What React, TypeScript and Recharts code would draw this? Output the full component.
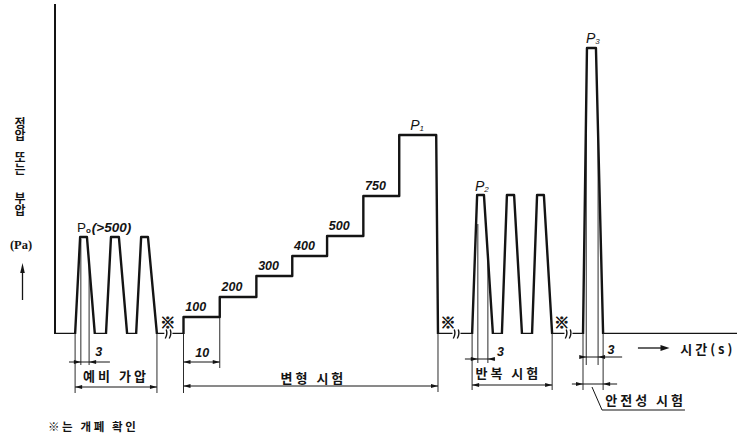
import React from 'react';
import { LineChart, Line, XAxis, YAxis, ReferenceLine, ReferenceDot } from 'recharts';

type Pt = { t: number; p: number };

// ---------------- data (time in s, pressure in schematic height units) ----------------
const P0_LEVEL = 97; // pre-pressure peaks, P0 (>500)
const P1_LEVEL = 199;
const P2_LEVEL = 139;
const P3_LEVEL = 286;

const STEP_LABELS = ['100', '200', '300', '400', '500', '750'];
const STEP_LEVELS = [17, 37, 58, 78, 98, 138];
const STEP_STARTS = [35.8, 45.9, 56.1, 66.1, 75.8, 85.9];
const P1_START = 95.9;
const P1_END = 106.2;
const P1_DROP = 106.7;

const PRE_PRESSURE: Pt[] = [
  { t: 0, p: 0 }, { t: 5.6, p: 0 }, { t: 7.0, p: P0_LEVEL }, { t: 8.9, p: P0_LEVEL }, { t: 11.1, p: 0 },
  { t: 14.2, p: 0 }, { t: 15.6, p: P0_LEVEL }, { t: 17.8, p: P0_LEVEL }, { t: 20.1, p: 0 },
  { t: 22.6, p: 0 }, { t: 24.0, p: P0_LEVEL }, { t: 25.9, p: P0_LEVEL }, { t: 28.4, p: 0 },
  { t: 30.6, p: 0 },
];

const DEFORMATION_LEAD: Pt[] = [{ t: 32.6, p: 0 }, { t: 35.8, p: 0 }];
const DEFORMATION_TAIL: Pt[] = [{ t: P1_DROP, p: 0 }, { t: 110.9, p: 0 }];

const REPEAT: Pt[] = [
  { t: 112.8, p: 0 }, { t: 116.2, p: 0 }, { t: 117.6, p: P2_LEVEL }, { t: 119.5, p: P2_LEVEL }, { t: 122.0, p: 0 },
  { t: 124.5, p: 0 }, { t: 125.9, p: P2_LEVEL }, { t: 127.9, p: P2_LEVEL }, { t: 130.1, p: 0 },
  { t: 132.9, p: 0 }, { t: 134.3, p: P2_LEVEL }, { t: 136.2, p: P2_LEVEL }, { t: 138.5, p: 0 },
  { t: 142.1, p: 0 },
];

const SAFETY: Pt[] = [
  { t: 144.0, p: 0 }, { t: 147.1, p: 0 }, { t: 148.2, p: P3_LEVEL }, { t: 150.7, p: P3_LEVEL },
  { t: 152.7, p: 0 }, { t: 190, p: 0 },
];

const BREAK_TIMES = [31.6, 111.85, 143.05];
const BREAK_NOTE_TIMES = [31.4, 109.5, 141.2];

// the stair-step deformation table built from the step arrays
const DEFORMATION: Pt[] = [
  ...DEFORMATION_LEAD,
  ...STEP_STARTS.flatMap((s, i) => [
    { t: s, p: i === 0 ? 0 : STEP_LEVELS[i - 1] },
    { t: s, p: STEP_LEVELS[i] },
  ]),
  { t: P1_START, p: STEP_LEVELS[STEP_LEVELS.length - 1] },
  { t: P1_START, p: P1_LEVEL },
  { t: P1_END, p: P1_LEVEL },
  ...DEFORMATION_TAIL,
];

const Y_TITLE_WORDS = ['정압', '또는', '부압'];
const Y_TITLE_UNIT = '(Pa)';
const X_TITLE = '시간(s)';

// ---------------- styling ----------------
const INK = '#141414';
const KR = '"Noto Sans CJK KR", "Noto Sans CJK SC", sans-serif';
const NUM = '"Liberation Sans", "DejaVu Sans", sans-serif';
const SERIF = '"Liberation Serif", "DejaVu Serif", serif';

const W = 737;
const H = 444;
const MARGIN = { top: 4, right: 0, left: 55, bottom: 110 };

// ---------------- annotation layout (in chart data units) ----------------
type Ext = [number, number, number];
const EXT_LINES: Ext[] = [
  [5.6, 0, -59], [7.2, 95, -31], [9.5, 69, -31], [28.4, 0, -59],
  [35.8, 0, -59], [45.9, 17, -34], [P1_DROP, 0, -58],
  [116.2, 0, -56], [117.8, 110, -29], [120.6, 77, -29], [138.5, 0, -56],
  [147.1, 0, -56], [148.0, 200, -31], [151.3, 200, -31], [152.7, 0, -56],
];

type Dim = { kind: 'out' | 'in'; t1: number; t2: number; from: number; to: number; p: number };
const DIMS: Dim[] = [
  { kind: 'in', t1: 7.2, t2: 9.5, from: 3.9, to: 15.3, p: -28 },
  { kind: 'out', t1: 5.6, t2: 28.4, from: 5.6, to: 28.4, p: -53 },
  { kind: 'out', t1: 35.8, t2: 45.9, from: 35.8, to: 45.9, p: -28 },
  { kind: 'out', t1: 35.8, t2: P1_DROP, from: 35.8, to: P1_DROP, p: -52 },
  { kind: 'in', t1: 117.8, t2: 120.6, from: 114.2, to: 122.6, p: -25 },
  { kind: 'out', t1: 116.2, t2: 138.5, from: 116.2, to: 138.5, p: -51 },
  { kind: 'in', t1: 148.0, t2: 151.3, from: 146.8, to: 158.0, p: -23 },
  { kind: 'in', t1: 147.1, t2: 152.7, from: 144.0, to: 156.6, p: -50 },
];

type Note = { t: number; p: number; text: string; anchor: 'start' | 'middle' | 'end'; font: 'kr' | 'num' };
const NOTES: Note[] = [
  { t: 12.2, p: -18, text: '3', anchor: 'middle', font: 'num' },
  { t: 17.0, p: -41, text: '예비\u00a0가압', anchor: 'middle', font: 'kr' },
  { t: 41.0, p: -19, text: '10', anchor: 'middle', font: 'num' },
  { t: 72.0, p: -43, text: '변형\u00a0시험', anchor: 'middle', font: 'kr' },
  { t: 124.1, p: -18, text: '3', anchor: 'middle', font: 'num' },
  { t: 126.3, p: -38, text: '반복\u00a0시험', anchor: 'middle', font: 'kr' },
  { t: 154.9, p: -16, text: '3', anchor: 'middle', font: 'num' },
  { t: 153.3, p: -65, text: '안전성\u00a0시험', anchor: 'start', font: 'kr' },
  { t: 174.2, p: -14, text: X_TITLE, anchor: 'start', font: 'kr' },
];

// ---------------- shapes ----------------
const arrowShape = (dir: 1 | -1, len = 7, hw = 2.1) => (props: any) => {
  const { cx, cy } = props;
  if (cx == null || cy == null) return <g />;
  return (
    <path
      d={`M${cx},${cy}L${cx - dir * len},${cy - hw}L${cx - dir * len},${cy + hw}Z`}
      fill={INK}
    />
  );
};

const textShape = (content: React.ReactNode, style: Record<string, any>) => (props: any) => {
  const { cx, cy } = props;
  if (cx == null || cy == null) return <g />;
  return (
    <text x={cx} y={cy} dominantBaseline="central" fill={INK} {...style}>
      {content}
    </text>
  );
};

const breakShape = (props: any) => {
  const { cx, cy } = props;
  if (cx == null || cy == null) return <g />;
  return (
    <g stroke={INK} strokeWidth={1.4} fill="none">
      <rect x={cx - 4} y={cy - 2} width={8} height={4} fill="#fff" stroke="none" />
      <path d={`M${cx - 3.2},${cy + 4.5} Q${cx - 0.6},${cy} ${cx - 2.2},${cy - 4.5}`} />
      <path d={`M${cx + 0.8},${cy + 4.5} Q${cx + 3.4},${cy} ${cx + 1.8},${cy - 4.5}`} />
    </g>
  );
};

// y-axis title, anchored at the axis origin (cx, cy); words are set vertically
const yTitleShape = (props: any) => {
  const { cx, cy } = props;
  if (cx == null || cy == null) return <g />;
  const x = cx - 35;
  const centres = [205, 171, 130];
  return (
    <g>
      {Y_TITLE_WORDS.map((w, i) => (
        <text key={i} x={x} y={cy - centres[i]} textAnchor="middle" dominantBaseline="central"
          style={{ writingMode: 'vertical-rl' as any }}
          fontFamily={KR} fontSize={12} fontWeight={700} fill={INK}>{w}</text>
      ))}
      <text x={x + 1} y={cy - 89} textAnchor="middle" dominantBaseline="central"
        fontFamily={SERIF} fontSize={12.5} fontWeight={700} fill={INK}>{Y_TITLE_UNIT}</text>
      <line x1={x + 2.5} y1={cy - 34} x2={x + 2.5} y2={cy - 64} stroke={INK} strokeWidth={1.3} />
      <path d={`M${x + 2.5},${cy - 71}L${x + 0.2},${cy - 61}L${x + 4.8},${cy - 61}Z`} fill={INK} />
    </g>
  );
};

const krStyle = { fontFamily: KR, fontSize: 13, fontWeight: 700, letterSpacing: 3 };
const numStyle = { fontFamily: NUM, fontSize: 12.5, fontStyle: 'italic', fontWeight: 700 };
const noteMarkStyle = {
  fontFamily: KR, fontSize: 15, fontWeight: 700, textAnchor: 'middle',
  stroke: INK, strokeWidth: 0.7,
};

export default function App() {
  const lineProps = {
    dataKey: 'p',
    stroke: INK,
    strokeWidth: 2.4,
    dot: false,
    activeDot: false,
    isAnimationActive: false,
    strokeLinejoin: 'round' as const,
    type: 'linear' as const,
  };

  const ext = EXT_LINES.map(([t, a, b], i) => (
    <ReferenceLine key={`e${i}`} segment={[{ x: t, y: a }, { x: t, y: b }]}
      stroke={INK} strokeWidth={0.9} ifOverflow="visible" />
  ));

  const dims = DIMS.flatMap((d, i) => [
    <ReferenceLine key={`d${i}`} segment={[{ x: d.from, y: d.p }, { x: d.to, y: d.p }]}
      stroke={INK} strokeWidth={1} ifOverflow="visible" />,
    <ReferenceDot key={`da${i}`} x={d.t1} y={d.p} r={0} ifOverflow="visible"
      shape={arrowShape(d.kind === 'out' ? -1 : 1)} />,
    <ReferenceDot key={`db${i}`} x={d.t2} y={d.p} r={0} ifOverflow="visible"
      shape={arrowShape(d.kind === 'out' ? 1 : -1)} />,
  ]);

  const notes = NOTES.map((n, i) => (
    <ReferenceDot key={`n${i}`} x={n.t} y={n.p} r={0} ifOverflow="visible"
      shape={textShape(n.text, { ...(n.font === 'kr' ? krStyle : numStyle), textAnchor: n.anchor })} />
  ));

  const stepLabels = STEP_LABELS.map((s, i) => (
    <ReferenceDot key={`s${i}`} x={STEP_STARTS[i] + 3.4} y={STEP_LEVELS[i] + 10} r={0} ifOverflow="visible"
      shape={textShape(s, { ...numStyle, textAnchor: 'middle' })} />
  ));

  const breaks = BREAK_TIMES.map((t, i) => (
    <ReferenceDot key={`b${i}`} x={t} y={0} r={0} ifOverflow="visible" shape={breakShape} />
  ));
  const breakNotes = BREAK_NOTE_TIMES.map((t, i) => (
    <ReferenceDot key={`bn${i}`} x={t} y={13} r={0} ifOverflow="visible"
      shape={textShape('※', noteMarkStyle)} />
  ));

  return (
    <div style={{ position: 'absolute', left: 0, top: 0, width: W, height: H, background: '#fff' }}>
      <LineChart width={W} height={H} margin={MARGIN}>
        <XAxis type="number" dataKey="t" domain={[0, 190]} allowDataOverflow hide />
        <YAxis type="number" domain={[0, 330]} allowDataOverflow hide />

        {/* vertical pressure axis */}
        <ReferenceLine segment={[{ x: 0, y: 0 }, { x: 0, y: 330 }]} stroke={INK} strokeWidth={2}
          ifOverflow="visible" />
        <ReferenceDot x={0} y={0} r={0} ifOverflow="visible" shape={yTitleShape} />

        {ext}
        {dims}

        <Line data={PRE_PRESSURE} {...lineProps} />
        <Line data={DEFORMATION} {...lineProps} />
        <Line data={REPEAT} {...lineProps} />
        <Line data={SAFETY} {...lineProps} />

        {breaks}
        {breakNotes}
        {stepLabels}
        {notes}

        {/* peak labels */}
        <ReferenceDot x={6.1} y={P0_LEVEL + 10} r={0} ifOverflow="visible"
          shape={textShape(
            <>
              <tspan fontStyle="normal" fontWeight={400}>P</tspan>
              <tspan fontSize={8} dy={3} fontStyle="normal">o</tspan>
              <tspan dy={-3} dx={1}>(&gt;500)</tspan>
            </>,
            { ...numStyle, textAnchor: 'start', fontSize: 13.5 })} />
        <ReferenceDot x={100.9} y={P1_LEVEL + 10} r={0} ifOverflow="visible"
          shape={textShape(
            <>
              <tspan>P</tspan>
              <tspan fontSize={8} dy={3}>1</tspan>
            </>,
            { ...numStyle, fontWeight: 400, textAnchor: 'middle', fontSize: 14 })} />
        <ReferenceDot x={117.0} y={P2_LEVEL + 9} r={0} ifOverflow="visible"
          shape={textShape(
            <>
              <tspan>P</tspan>
              <tspan fontSize={8} dy={3}>2</tspan>
            </>,
            { ...numStyle, fontWeight: 400, textAnchor: 'start', fontSize: 14 })} />
        <ReferenceDot x={147.9} y={P3_LEVEL + 10} r={0} ifOverflow="visible"
          shape={textShape(
            <>
              <tspan>P</tspan>
              <tspan fontSize={8} dy={3}>3</tspan>
            </>,
            { ...numStyle, fontWeight: 400, textAnchor: 'start', fontSize: 14 })} />

        {/* time axis arrow */}
        <ReferenceLine segment={[{ x: 162.4, y: -14 }, { x: 169.5, y: -14 }]}
          stroke={INK} strokeWidth={1.3} ifOverflow="visible" />
        <ReferenceDot x={171.2} y={-14} r={0} ifOverflow="visible" shape={arrowShape(1, 9, 3)} />

        {/* leader line for safety test */}
        <ReferenceLine segment={[{ x: 149.6, y: -53 }, { x: 152.4, y: -76 }]}
          stroke={INK} strokeWidth={1} ifOverflow="visible" />
        <ReferenceLine segment={[{ x: 152.4, y: -76 }, { x: 175.5, y: -76 }]}
          stroke={INK} strokeWidth={1.2} ifOverflow="visible" />

        {/* footnote */}
        <ReferenceDot x={-1.95} y={-92} r={0} ifOverflow="visible"
          shape={textShape('※는\u00a0개폐\u00a0확인', { ...krStyle, fontSize: 11.5, letterSpacing: 2.6, textAnchor: 'start' })} />
      </LineChart>
    </div>
  );
}
